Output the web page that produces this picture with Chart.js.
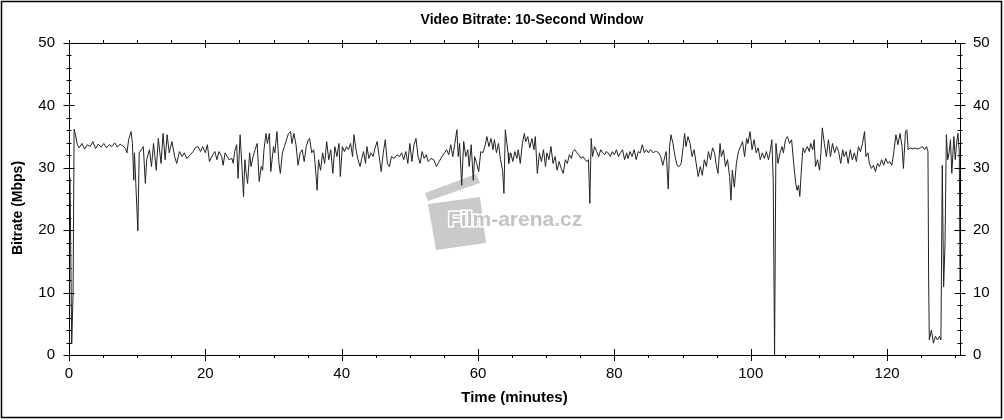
<!DOCTYPE html>
<html>
<head>
<meta charset="utf-8">
<script src="https://cdn.jsdelivr.net/npm/chart.js@4/dist/chart.umd.min.js"></script>
<style>
  html, body { margin: 0; padding: 0; background: #fff; }
  canvas { display: block; }
</style>
</head>
<body>
<canvas id="graph" width="1004" height="420"></canvas>
<script>
// time (minutes) and bitrate (Mbps)
const minutes = [
  0.15, 0.4, 0.6, 0.75, 0.95, 1.2, 1.5, 1.9, 2.3, 2.7, 3.1, 3.5, 3.9, 4.3, 4.7, 5.1, 5.5, 5.9, 6.3, 6.7,
  7.1, 7.5, 7.9, 8.3, 8.5, 8.75, 9.1, 9.3, 9.5, 9.6, 9.8, 10.1, 10.3, 10.6, 10.9, 11.2, 11.4, 11.8, 12.1, 12.4,
  12.8, 13.1, 13.5, 13.8, 14.1, 14.4, 14.7, 15.1, 15.5, 15.8, 16.2, 16.6, 16.9, 17.3, 17.8, 18.2, 18.5, 18.9, 19.3, 19.6,
  20.0, 20.3, 20.6,
  21.1, 21.4, 21.7, 22.0, 22.4, 22.6, 22.9, 23.2, 23.5, 23.9, 24.1, 24.3, 24.6, 24.8, 25.1, 25.4, 25.6, 25.8, 26.0, 26.2,
  26.5, 26.7, 27.0, 27.3, 27.6, 27.9, 28.2, 28.4, 28.6, 28.9, 29.1, 29.4, 29.6, 30.0, 30.2, 30.5, 30.8, 31.0, 31.3, 31.6,
  31.9, 32.2, 32.5, 32.7, 33.0, 33.3, 33.6, 33.9, 34.2, 34.5, 34.8, 35.1, 35.3, 35.6, 35.9, 36.1, 36.4, 36.6, 36.9, 37.2,
  37.5, 37.8, 38.1, 38.4, 38.7, 39.0, 39.3, 39.6, 39.8, 40.1, 40.4, 40.7, 41.0, 41.3, 41.6, 41.8, 42.1, 42.4, 42.7,
  42.9, 43.2, 43.5, 43.7, 44.0, 44.3, 44.6, 44.9, 45.2, 45.5, 45.8, 46.1, 46.4, 46.7, 47.0, 47.3, 47.7, 48.1, 48.5, 48.8,
  49.1, 49.4, 49.7, 50.0, 50.3, 50.6, 50.9, 51.2, 51.5, 51.8, 52.1, 52.4, 52.7, 53.1, 53.5, 53.9, 54.3, 54.7, 55.1, 55.4,
  55.7, 56.0, 56.3, 56.6, 56.9, 57.1, 57.3, 57.6, 57.9, 58.2, 58.5, 58.7, 59.0, 59.3, 59.5, 59.8, 60.1, 60.4, 60.7, 61.0,
  61.3, 61.6, 61.9, 62.2, 62.4, 62.7, 63.0, 63.3, 63.6, 63.8, 64.0, 64.4,
  64.5, 64.8, 65.1, 65.4, 65.7, 65.9, 66.2, 66.5, 66.8, 67.0, 67.3, 67.6, 67.9, 68.2, 68.4, 68.7, 69.0, 69.3, 69.6, 69.9,
  70.1, 70.4, 70.7, 71.0, 71.3, 71.6, 71.9, 72.2, 72.5, 72.8, 73.1, 73.4, 73.7, 73.9, 74.2, 74.5, 74.8, 75.1, 75.4, 75.7,
  76.0, 76.2, 76.4, 76.6, 76.8, 77.1, 77.4, 77.7, 78.0, 78.3, 78.6, 78.8, 79.1, 79.4, 79.7, 80.0, 80.3, 80.6, 80.9, 81.2,
  81.5, 81.8, 82.0, 82.3, 82.6, 82.9, 83.2, 83.5, 83.8, 84.1, 84.4, 84.7, 85.0, 85.3, 85.7, 86.0,
  86.2, 86.5, 86.8, 87.1, 87.4, 87.6, 87.9, 88.1, 88.3, 88.6, 88.9, 89.2, 89.5, 89.8, 90.1, 90.3, 90.5, 90.8, 91.1, 91.4,
  91.7, 92.0, 92.3, 92.6, 92.9, 93.2, 93.5, 93.8, 94.1, 94.4, 94.7, 94.9, 95.2, 95.5, 95.7, 96.0, 96.3, 96.6, 96.9, 97.1,
  97.3, 97.6, 97.9, 98.2, 98.5, 98.8, 99.1, 99.4, 99.6, 99.9, 100.2, 100.5, 100.8, 101.1, 101.4, 101.7, 102.0, 102.3, 102.6, 102.9,
  103.1, 103.3, 103.5, 103.7, 104.0, 104.3, 104.6, 104.8, 105.1, 105.4, 105.7, 106.0, 106.3, 106.6, 106.8, 107.0, 107.2, 107.4, 107.6,
  107.7, 107.9, 108.3, 108.6, 108.8, 109.1, 109.3, 109.5, 109.8, 110.1, 110.3, 110.5, 110.8, 111.1, 111.4, 111.7, 112.0, 112.3, 112.6, 112.9,
  113.2, 113.5, 113.7, 114.0, 114.3, 114.6, 114.9, 115.2, 115.5, 115.8, 116.1, 116.4, 116.7, 116.9, 117.2, 117.4, 117.7, 118.0, 118.3, 118.6,
  118.9, 119.2, 119.5, 119.8, 120.1, 120.4, 120.7, 121.0, 121.3, 121.6, 121.9, 122.2, 122.4, 122.7, 122.9, 123.1, 123.4, 123.8, 124.1, 124.5,
  124.9, 125.2, 125.5, 125.8, 126.0, 126.1, 126.2, 126.5, 126.8, 127.1, 127.4, 127.7, 127.9, 128.1, 128.3, 128.5, 128.7, 128.9, 129.1, 129.3,
  129.5, 129.8, 130.0, 130.2, 130.4, 130.6, 130.7
];

const mbps = [
  28.4, 1.8, 10.0, 36.2, 35.3, 33.8, 33.2, 33.9, 33.0, 33.7, 33.4, 34.2, 33.1, 33.8, 33.3, 33.9, 33.2, 33.7, 33.4, 34.0,
  33.3, 33.8, 33.5, 33.1, 32.4, 34.5, 35.8, 33.9, 28.0, 32.4, 27.5, 19.9, 32.4, 32.9, 33.4, 27.5, 31.3, 32.9, 30.2, 33.9,
  29.6, 34.7, 30.7, 35.5, 31.3, 35.3, 32.4, 34.2, 31.8, 30.7, 32.6, 31.8, 32.4, 31.5, 32.1, 32.6, 33.2, 33.4, 32.6, 33.4,
  32.4, 33.7, 31.0,
  32.1, 32.6, 31.3, 32.6, 31.8, 30.4, 32.4, 31.8, 31.3, 31.5, 30.7, 32.6, 33.7, 28.3, 35.3, 29.6, 25.4, 31.3, 29.1, 27.5,
  32.4, 30.2, 31.8, 32.9, 33.9, 27.8, 30.2, 29.6, 32.9, 35.5, 33.9, 35.5, 29.4, 33.4, 32.4, 35.8, 30.7, 29.1, 32.4, 33.4,
  34.5, 35.5, 35.8, 33.9, 35.5, 33.7, 30.4, 32.4, 32.9, 31.0, 33.4, 34.5, 34.7, 32.4, 32.9, 30.7, 26.4, 31.3, 29.6, 32.4,
  30.7, 34.2, 31.3, 32.9, 29.1, 33.4, 31.8, 33.9, 28.6, 33.4, 32.6, 33.4, 32.9, 33.9, 31.8, 35.3, 32.9, 31.3, 30.2,
  31.3, 32.6, 30.7, 33.4, 31.5, 32.4, 31.8, 33.2, 34.2, 31.8, 29.4, 32.4, 34.5, 30.7, 30.2, 31.8, 31.5, 32.1, 31.8, 32.4,
  31.3, 32.6, 30.7, 33.9, 31.0, 33.7, 34.7, 31.8, 30.7, 32.6, 31.5, 32.1, 31.0, 31.5, 31.3, 30.2, 31.0, 31.8, 32.4, 32.9,
  32.1, 33.7, 31.8, 33.9, 36.1, 31.8, 33.9, 27.2, 34.2, 31.8, 32.9, 30.2, 33.7, 28.0, 31.8, 30.7, 29.4, 32.6, 32.4, 33.4,
  35.0, 33.4, 34.7, 32.9, 34.5, 32.4, 33.9, 31.3, 29.6, 25.9, 36.1, 32.4,
  30.7, 32.4, 31.0, 32.6, 31.5, 32.9, 30.7, 33.9, 35.5, 34.2, 35.0, 33.2, 34.7, 32.9, 35.0, 29.1, 32.4, 31.0, 32.9, 30.2,
  32.4, 31.3, 33.4, 30.7, 31.8, 29.6, 31.0, 29.9, 29.1, 31.3, 30.7, 32.1, 31.5, 32.6, 32.9, 32.4, 32.1, 31.5, 31.8, 31.3,
  31.0, 31.3, 24.3, 34.7, 31.8, 33.4, 32.6, 31.8, 32.9, 32.4, 32.1, 32.6, 32.4, 31.8, 32.6, 32.1, 32.9, 31.8, 32.4, 32.9,
  31.3, 32.4, 31.5, 32.6, 31.8, 32.9, 31.3, 32.6, 32.4, 33.7, 32.4, 32.9, 32.4, 32.9, 32.4, 32.6,
  32.6, 32.4, 31.8, 30.4, 31.8, 32.6, 26.6, 33.4, 35.3, 33.9, 31.8, 30.4, 30.2, 30.7, 33.4, 35.5, 33.4, 35.0, 33.9, 31.8,
  32.9, 30.7, 28.6, 30.2, 28.8, 31.3, 30.2, 32.6, 31.3, 33.2, 32.4, 30.7, 29.1, 33.9, 31.8, 32.9, 30.2, 31.3, 28.6, 24.8,
  29.6, 26.9, 30.7, 32.6, 33.4, 34.2, 31.8, 34.7, 33.9, 35.8, 32.9, 34.5, 32.4, 33.2, 31.3, 32.4, 31.5, 32.6, 31.3, 32.9,
  34.5, 28.0, 0, 33.9, 30.7, 32.4, 33.4, 32.4, 34.5, 35.0, 33.9, 34.5, 30.7, 27.5, 26.4, 27.2, 25.4, 29.1, 32.4,
  33.2, 32.4, 33.4, 32.6, 33.9, 32.9, 34.5, 30.2, 31.3, 29.6, 32.4, 36.4, 33.9, 31.8, 34.5, 31.8, 33.9, 32.4, 33.4, 32.6,
  30.7, 32.9, 31.8, 32.6, 30.7, 32.9, 31.3, 32.4, 31.0, 33.4, 32.6, 33.9, 35.8, 31.8, 32.4, 30.7, 29.9, 30.4, 29.4, 30.7,
  30.2, 31.3, 30.4, 31.5, 30.7, 31.0, 30.4, 32.6, 35.3, 33.7, 35.5, 33.4, 29.9, 35.8, 36.1, 32.9, 33.2, 33.0, 33.2, 33.0,
  33.2, 33.4, 32.9, 33.4, 32.6, 11.7, 2.4, 4.0, 1.9, 3.0, 2.4, 3.0, 2.4, 30.4, 10.9, 17.8, 35.3, 31.3, 32.4, 34.5,
  29.1, 35.0, 31.3, 33.9, 35.5, 32.4, 12.0
];

const xTickLabels = [0, 20, 40, 60, 80, 100, 120];
const yTickLabels = [0, 10, 20, 30, 40, 50];

const FONT = 'Arial, "Liberation Sans", sans-serif';
Chart.defaults.font.family = FONT;
Chart.defaults.color = '#000';

const points = minutes.map((m, i) => ({ x: m, y: mbps[i] }));

// frame, tick marks, titles and watermark
const decorations = {
  id: 'decorations',
  beforeDatasetsDraw(chart) {
    const { ctx } = chart;
    ctx.save();
    ctx.fillStyle = '#cacaca';
    // clapperboard
    ctx.beginPath();
    ctx.moveTo(428, 204); ctx.lineTo(480, 197); ctx.lineTo(486, 243); ctx.lineTo(436, 250);
    ctx.closePath(); ctx.fill();
    ctx.beginPath();
    ctx.moveTo(425, 193); ctx.lineTo(476, 174); ctx.lineTo(480, 183); ctx.lineTo(428, 201);
    ctx.closePath(); ctx.fill();
    ctx.font = 'bold 21px ' + FONT;
    ctx.textBaseline = 'alphabetic';
    ctx.lineWidth = 3;
    ctx.strokeStyle = '#fff';
    ctx.strokeText('Film-arena.cz', 448, 226);
    ctx.fillStyle = '#c4c4c4';
    ctx.fillText('Film-arena.cz', 448, 226);
    ctx.restore();
  },
  afterDraw(chart) {
    const { ctx, chartArea: a, scales } = chart;
    ctx.save();
    ctx.strokeStyle = '#000';
    ctx.lineWidth = 1;
    ctx.strokeRect(Math.round(a.left) + 0.5, Math.round(a.top) + 0.5,
      Math.round(a.right - a.left), Math.round(a.bottom - a.top));
    ctx.beginPath();
    scales.x.ticks.forEach(t => {
      const px = Math.round(scales.x.getPixelForValue(t.value)) + 0.5;
      const major = xTickLabels.includes(t.value);
      ctx.moveTo(px, a.bottom + (major ? 6 : 3));
      ctx.lineTo(px, a.bottom - (major ? 6 : 0));
      ctx.moveTo(px, a.top - 3);
      ctx.lineTo(px, a.top + (major ? 5 : 0));
    });
    scales.y.ticks.forEach(t => {
      const py = Math.round(scales.y.getPixelForValue(t.value)) + 0.5;
      const half = yTickLabels.includes(t.value) ? 5.5 : 2.5;
      ctx.moveTo(a.left - half, py); ctx.lineTo(a.left + half, py);
      ctx.moveTo(a.right - half, py); ctx.lineTo(a.right + half, py);
    });
    ctx.stroke();
    // outer frame
    ctx.lineWidth = 1.5;
    ctx.strokeRect(1.5, 1.5, 1000, 416);
    ctx.fillStyle = '#000';
    ctx.textAlign = 'center';
    ctx.textBaseline = 'middle';
    // chart title
    ctx.font = 'bold 14px ' + FONT;
    ctx.fillText('Video Bitrate: 10-Second Window', 532, 20);
    // y axis title
    ctx.translate(18, 208);
    ctx.rotate(-Math.PI / 2);
    ctx.font = 'bold 14px ' + FONT;
    ctx.fillText('Bitrate (Mbps)', 0, 0);
    ctx.restore();
  }
};

const yTicks = {
  stepSize: 2, autoSkip: false, padding: 14, font: { size: 15 },
  callback: v => yTickLabels.includes(v) ? v : ''
};

new Chart(document.getElementById('graph'), {
  type: 'line',
  data: {
    datasets: [{
      data: points,
      borderColor: '#222',
      borderWidth: 1,
      pointRadius: 0,
      tension: 0,
      fill: false
    }]
  },
  options: {
    responsive: false,
    animation: false,
    events: [],
    layout: { padding: { left: 2, right: 2, top: 43, bottom: 0 } },
    plugins: {
      legend: { display: false },
      tooltip: { enabled: false },
      title: { display: false }
    },
    scales: {
      x: {
        type: 'linear', position: 'bottom', min: 0, max: 130.7,
        grid: { display: false, drawTicks: false },
        border: { display: false },
        ticks: {
          stepSize: 5, autoSkip: false, includeBounds: false, maxRotation: 0, padding: 10,
          font: { size: 15 },
          callback: v => xTickLabels.includes(v) ? v : ''
        },
        title: { display: true, text: 'Time (minutes)', font: { size: 15, weight: 'bold' }, padding: { top: 0, bottom: 13 } },
        afterFit: s => { s.height = 65; }
      },
      y: {
        position: 'left', min: 0, max: 50,
        grid: { display: false, drawTicks: false },
        border: { display: false },
        ticks: yTicks,
        afterFit: s => { s.width = 67; }
      },
      y2: {
        position: 'right', min: 0, max: 50,
        grid: { display: false, drawTicks: false },
        border: { display: false },
        ticks: Object.assign({}, yTicks, { padding: 13 }),
        afterFit: s => { s.width = 42; }
      }
    }
  },
  plugins: [decorations]
});
</script>
</body>
</html>
